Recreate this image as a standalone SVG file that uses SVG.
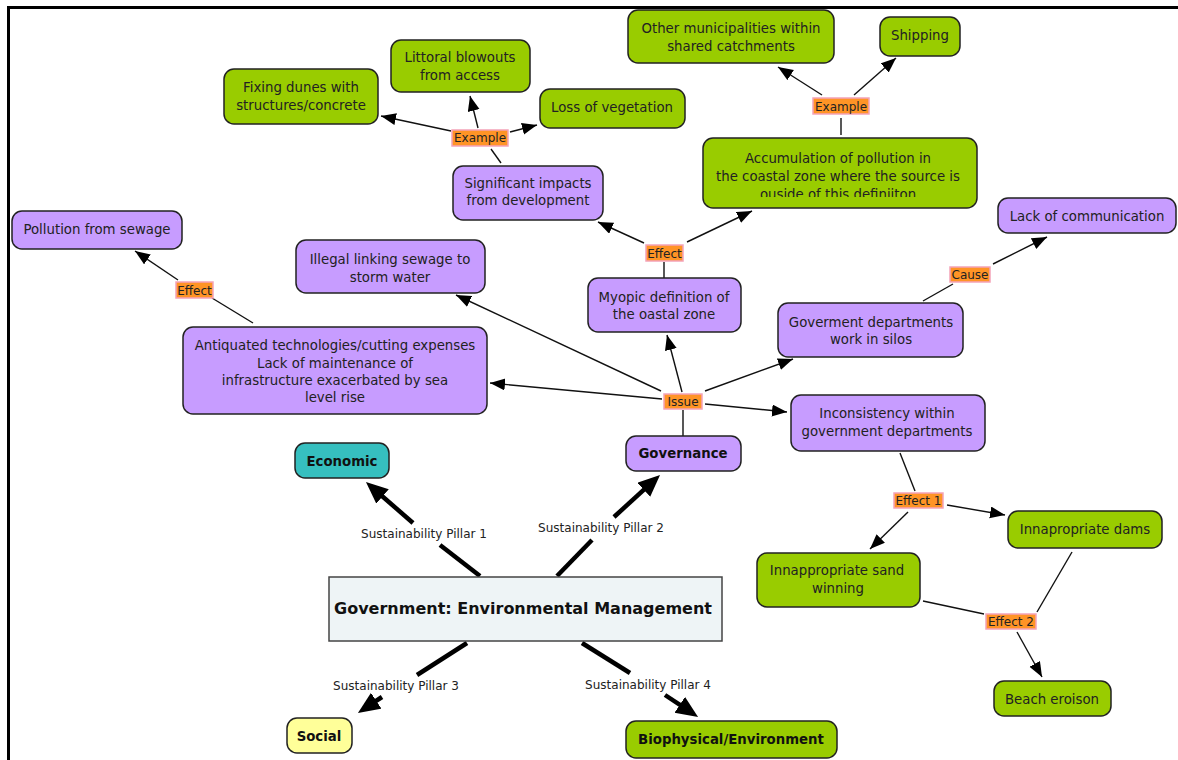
<svg xmlns="http://www.w3.org/2000/svg" width="1178" height="760" viewBox="0 0 1178 760">
  <style>
    .node rect { stroke: #222; stroke-width: 1.5; }
    .green rect { fill: #99cc00; }
    .purple rect { fill: #c79cff; }
    .teal rect { fill: #36bfbf; }
    .yellow rect { fill: #ffff99; }
    .central rect { fill: #eef4f6; stroke: #444; stroke-width: 1.5; }
    .node text { font-family: "DejaVu Sans", Verdana, sans-serif; font-size: 13.3px; fill: #222; text-anchor: middle; }
    .node text.b { font-weight: bold; fill: #111; }
    .central text { font-size: 16px; }
    .lbl rect { fill: #ff9426; stroke: #f4a3b8; stroke-width: 1.5; }
    .lbl text, .plabel { font-family: "DejaVu Sans", Verdana, sans-serif; font-size: 12px; fill: #222; text-anchor: middle; }
    .thin { stroke: #111; stroke-width: 1.4; fill: none; }
    .thick { stroke: #000; stroke-width: 4.5; fill: none; }
    .arr { marker-end: url(#head); }
    .arrT { marker-end: url(#headBig); }
  </style>
  <defs>
    <marker id="head" markerUnits="userSpaceOnUse" markerWidth="16" markerHeight="13" refX="15" refY="6" orient="auto">
      <path d="M0,0 L15,6 L0,12 z" fill="#000"/>
    </marker>
    <marker id="headBig" markerUnits="userSpaceOnUse" markerWidth="23" markerHeight="20" refX="8" refY="9.5" orient="auto">
      <path d="M0,0 L22,9.5 L0,19 z" fill="#000"/>
    </marker>
    <clipPath id="accClip">
      <rect x="705" y="140" width="270" height="57"/>
    </clipPath>
  </defs>

  <rect x="0" y="0" width="1178" height="760" fill="#fff"/>
  <!-- frame edges -->
  <path d="M8.5,760 V7.5 H1178" fill="none" stroke="#000" stroke-width="3"/>

  <!-- connectors -->
  <g id="connectors">
    <!-- Example (dunes / blowouts / vegetation) -->
    <line class="thin" x1="501" y1="163" x2="491" y2="149"/>
    <line class="thin arr" x1="451" y1="131" x2="381" y2="116"/>
    <line class="thin arr" x1="478" y1="128" x2="470" y2="96"/>
    <line class="thin arr" x1="510" y1="132" x2="537" y2="125"/>
    <!-- Effect (myopic definition) -->
    <line class="thin" x1="664" y1="278" x2="664" y2="262"/>
    <line class="thin arr" x1="644" y1="243" x2="598" y2="222"/>
    <line class="thin arr" x1="687" y1="242" x2="752" y2="211"/>
    <!-- Example (pollution sources) -->
    <line class="thin" x1="841" y1="135" x2="841" y2="118"/>
    <line class="thin arr" x1="822" y1="95" x2="778" y2="67"/>
    <line class="thin arr" x1="854" y1="95" x2="896" y2="58"/>
    <!-- Cause -->
    <line class="thin" x1="923" y1="301" x2="953" y2="284"/>
    <line class="thin arr" x1="993" y1="264" x2="1047" y2="237"/>
    <!-- Effect (antiquated technologies) -->
    <line class="thin" x1="253" y1="323" x2="212" y2="298"/>
    <line class="thin arr" x1="178" y1="280" x2="135" y2="251"/>
    <!-- Issue -->
    <line class="thin" x1="683" y1="436" x2="683" y2="410"/>
    <line class="thin arr" x1="661" y1="391" x2="456" y2="295"/>
    <line class="thin arr" x1="662" y1="399" x2="490" y2="383"/>
    <line class="thin arr" x1="682" y1="392" x2="667" y2="335"/>
    <line class="thin arr" x1="705" y1="391" x2="793" y2="359"/>
    <line class="thin arr" x1="705" y1="404" x2="787" y2="412"/>
    <!-- Effect 1 -->
    <line class="thin" x1="900" y1="453" x2="915" y2="491"/>
    <line class="thin arr" x1="947" y1="505" x2="1005" y2="515"/>
    <line class="thin arr" x1="908" y1="512" x2="870" y2="549"/>
    <!-- Effect 2 -->
    <line class="thin" x1="923" y1="601" x2="984" y2="614"/>
    <line class="thin" x1="1072" y1="552" x2="1037" y2="612"/>
    <line class="thin arr" x1="1017" y1="632" x2="1042" y2="677"/>
    <!-- Sustainability pillars -->
    <line class="thick" x1="480" y1="576" x2="440" y2="545"/>
    <line class="thick arrT" x1="413" y1="523" x2="376.5" y2="491.2"/>
    <line class="thick" x1="557" y1="576" x2="592" y2="540"/>
    <line class="thick arrT" x1="614" y1="517" x2="649.7" y2="484.4"/>
    <line class="thick" x1="467" y1="643" x2="417" y2="675"/>
    <line class="thick arrT" x1="382" y1="697" x2="369.6" y2="705.2"/>
    <line class="thick" x1="582" y1="643" x2="630" y2="673"/>
    <line class="thick arrT" x1="665" y1="695" x2="686.4" y2="709.2"/>
  </g>

  <!-- linking phrases -->
  <g id="label-example-1" class="lbl"><rect x="452" y="130" width="56" height="16"/><text x="480" y="142">Example</text></g>
  <g id="label-example-2" class="lbl"><rect x="813" y="98" width="56" height="16"/><text x="841" y="110.5">Example</text></g>
  <g id="label-effect-1" class="lbl"><rect x="646" y="245" width="37" height="16"/><text x="664.5" y="257.5">Effect</text></g>
  <g id="label-effect-2" class="lbl"><rect x="176" y="282" width="37" height="16"/><text x="194.5" y="294.5">Effect</text></g>
  <g id="label-cause" class="lbl"><rect x="950" y="267" width="40" height="15"/><text x="970" y="279">Cause</text></g>
  <g id="label-issue" class="lbl"><rect x="664" y="394" width="38" height="15"/><text x="683" y="406">Issue</text></g>
  <g id="label-effect1" class="lbl"><rect x="894" y="493" width="49" height="15"/><text x="918.5" y="505">Effect 1</text></g>
  <g id="label-effect2" class="lbl"><rect x="986" y="614" width="50" height="15"/><text x="1011" y="626">Effect 2</text></g>

  <g id="pillar-labels">
    <text class="plabel" x="424" y="537.5">Sustainability Pillar 1</text>
    <text class="plabel" x="601" y="532">Sustainability Pillar 2</text>
    <text class="plabel" x="396" y="689.5">Sustainability Pillar 3</text>
    <text class="plabel" x="648" y="688.5">Sustainability Pillar 4</text>
  </g>

  <!-- concepts -->
  <g id="n-dunes" class="node green"><rect x="224" y="69" width="154" height="55" rx="10"/><text x="301" y="92">Fixing dunes with</text><text x="301" y="110">structures/concrete</text></g>
  <g id="n-blowouts" class="node green"><rect x="391" y="40" width="139" height="52" rx="10"/><text x="460" y="62">Littoral blowouts</text><text x="460" y="80">from access</text></g>
  <g id="n-vegetation" class="node green"><rect x="540" y="89" width="145" height="39" rx="10"/><text x="612" y="112">Loss of vegetation</text></g>
  <g id="n-municipalities" class="node green"><rect x="628" y="10" width="206" height="53" rx="10"/><text x="731" y="33">Other municipalities within</text><text x="731" y="51">shared catchments</text></g>
  <g id="n-shipping" class="node green"><rect x="880" y="17" width="80" height="39" rx="10"/><text x="920" y="40">Shipping</text></g>
  <g id="n-accumulation" class="node green"><rect x="703" y="138" width="274" height="70" rx="10"/><g clip-path="url(#accClip)"><text x="838" y="162.5">Accumulation of pollution in</text><text x="838" y="180.5">the coastal zone where the source is</text><text x="838" y="198.5">ouside of this definiiton</text></g></g>
  <g id="n-impacts" class="node purple"><rect x="453" y="166" width="150" height="54" rx="10"/><text x="528" y="188">Significant impacts</text><text x="528" y="205">from development</text></g>
  <g id="n-sewage" class="node purple"><rect x="12" y="211" width="170" height="38" rx="10"/><text x="97" y="234">Pollution from sewage</text></g>
  <g id="n-illegal" class="node purple"><rect x="296" y="240" width="189" height="53" rx="10"/><text x="390" y="264">Illegal linking sewage to</text><text x="390" y="281.5">storm water</text></g>
  <g id="n-antiquated" class="node purple"><rect x="183" y="327" width="304" height="87" rx="10"/><text x="335" y="349.5">Antiquated technologies/cutting expenses</text><text x="335" y="367.5">Lack of maintenance of</text><text x="335" y="385">infrastructure exacerbated by sea</text><text x="335" y="402">level rise</text></g>
  <g id="n-myopic" class="node purple"><rect x="588" y="278" width="153" height="54" rx="10"/><text x="664" y="301.5">Myopic definition of</text><text x="664" y="318.5">the oastal zone</text></g>
  <g id="n-communication" class="node purple"><rect x="998" y="198" width="178" height="35" rx="10"/><text x="1087" y="221">Lack of communication</text></g>
  <g id="n-silos" class="node purple"><rect x="778" y="303" width="185" height="54" rx="10"/><text x="871" y="326.5">Goverment departments</text><text x="871" y="344">work in silos</text></g>
  <g id="n-inconsistency" class="node purple"><rect x="791" y="395" width="194" height="56" rx="10"/><text x="887" y="418">Inconsistency within</text><text x="887" y="435.5">government departments</text></g>
  <g id="n-economic" class="node teal"><rect x="295" y="443" width="94" height="35" rx="10"/><text class="b" x="342" y="465.5">Economic</text></g>
  <g id="n-governance" class="node purple"><rect x="626" y="436" width="115" height="35" rx="10"/><text class="b" x="683" y="458">Governance</text></g>
  <g id="n-central" class="node central"><rect x="329" y="577" width="393" height="64"/><text class="b" x="523" y="614">Government: Environmental Management</text></g>
  <g id="n-social" class="node yellow"><rect x="287" y="718" width="65" height="35" rx="10"/><text class="b" x="319" y="740.5">Social</text></g>
  <g id="n-biophysical" class="node green"><rect x="626" y="721" width="211" height="37" rx="10"/><text class="b" x="731" y="743.5">Biophysical/Environment</text></g>
  <g id="n-dams" class="node green"><rect x="1008" y="511" width="154" height="37" rx="10"/><text x="1085" y="533.5">Innapropriate dams</text></g>
  <g id="n-sand" class="node green"><rect x="757" y="553" width="163" height="54" rx="10"/><text x="837" y="575">Innappropriate sand</text><text x="838" y="592.5">winning</text></g>
  <g id="n-erosion" class="node green"><rect x="994" y="681" width="117" height="35" rx="10"/><text x="1052" y="704">Beach eroison</text></g>
</svg>
